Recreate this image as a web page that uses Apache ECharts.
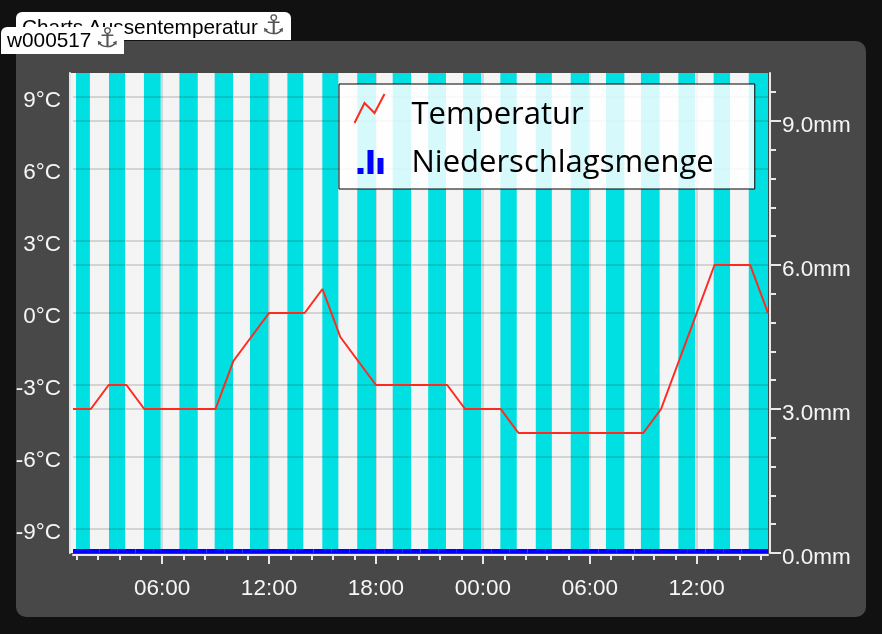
<!DOCTYPE html>
<html>
<head>
<meta charset="utf-8">
<title>Charts Aussentemperatur</title>
<script src="https://cdn.jsdelivr.net/npm/echarts@6/dist/echarts.min.js"></script>
<style>
  html, body { margin: 0; padding: 0; width: 882px; height: 634px; background: #111; overflow: hidden; }
  .panel { position: absolute; left: 16px; top: 41px; width: 850px; height: 576px; background: #484848; border-radius: 10px; }
  .plotbg { position: absolute; left: 71px; top: 73px; width: 697px; height: 480px; background: #f4f4f4; }
  #chart { position: absolute; left: 0; top: 0; width: 882px; height: 634px; }
  .tab { position: absolute; background: #fff; color: #000; font: 20.8px "Liberation Sans", Arial, sans-serif; white-space: nowrap; box-sizing: border-box; overflow: hidden; }
  .tab span { font-family: "DejaVu Sans"; color: #555; font-size: 27px; line-height: 20px; margin-left: -2px; }
  .tab1 { left: 16px; top: 12px; width: 275px; height: 28px; padding: 3px 0 0 6px; border-radius: 6px 6px 0 0; }
  .tab2 { left: 1px; top: 27px; width: 123px; height: 27px; padding: 1px 0 0 6px; border-radius: 6px 0 0 0; }
</style>
</head>
<body>
<div class="panel"></div>
<div class="plotbg"></div>
<div id="chart"></div>
<div class="tab tab1">Charts Aussentemperatur <span>⚓</span></div>
<div class="tab tab2">w000517 <span>⚓</span></div>
<script>
// hour counted from 00:00 of the first day
var hours = [1,2,3,4,5,6,7,8,9,10,11,12,13,14,15,16,17,18,19,20,21,22,23,24,25,26,27,28,29,30,31,32,33,34,35,36,37,38,39,40];
var temperatur = [-4,-4,-3,-3,-4,-4,-4,-4,-4,-2,-1,0,0,0,1,-1,-2,-3,-3,-3,-3,-3,-4,-4,-4,-5,-5,-5,-5,-5,-5,-5,-5,-4,-2,0,2,2,2,0];
var niederschlag = [0,0,0,0,0,0,0,0,0,0,0,0,0,0,0,0,0,0,0,0,0,0,0,0,0,0,0,0,0,0,0,0,0,0,0,0,0,0,0,0];

// cyan stripes, from / to in hours
var stripeFrom = [1.17,3.02,4.98,6.97,8.95,10.93,13.03,14.99,16.95,18.94,20.93,22.89,24.98,26.97,28.93,30.91,32.87,34.97,36.95,38.92];
var stripeTo = [1.95,3.92,5.92,8.0,9.98,11.96,13.92,15.89,17.99,19.97,21.93,23.91,25.9,27.87,29.96,31.94,33.92,35.91,37.87,40];

var xTicks = [6,12,18,24,30,36];
var xLabels = ['06:00','12:00','18:00','00:00','06:00','12:00'];
var xMinorTicks = [1.2,2.4,3.6,4.8,7.2,8.4,9.6,10.8,13.2,14.4,15.6,16.8,19.2,20.4,21.6,22.8,25.2,26.4,27.6,28.8,31.2,32.4,33.6,34.8,37.2,38.4,39.6];
var tempTicks = [-9,-6,-3,0,3,6,9];
var rainTicks = [0,3,6,9];
var rainMinorTicks = [0.6,1.2,1.8,2.4,3.6,4.2,4.8,5.4,6.6,7.2,7.8,8.4,9.6];

var axisColor = '#e8e8e8';
var labelFont = { color: '#f6f6f6', fontSize: 22.5, fontFamily: 'Liberation Sans' };
var gridLine = { show: true, lineStyle: { color: 'rgba(0,0,0,0.13)', width: 2 } };

var myChart = echarts.init(document.getElementById('chart'), null, { renderer: 'canvas' });
var charOption = {
  animation: false,
  backgroundColor: 'transparent',
  grid: { left: 73, top: 73, width: 695, height: 480 },
  legend: {
    left: 339,
    top: 84,
    orient: 'vertical',
    selectedMode: false,
    z: 6,
    padding: [5, 41, 10, 13],
    itemWidth: 30,
    itemHeight: 32,
    itemGap: 6,
    backgroundColor: 'rgba(255,255,255,0.84)',
    borderColor: '#000',
    borderWidth: 1,
    formatter: '{t|{name}}',
    textStyle: {
      rich: { t: { color: '#000', fontSize: 31, fontFamily: 'Open Sans', lineHeight: 26, padding: [11, 0, 0, 22] } }
    },
    data: [
      { name: 'Temperatur', icon: 'path://M0 32L0 32ZM0 29L10 9L20 19L30 0', itemStyle: { color: 'none', borderColor: '#ff2a1f', borderWidth: 2 } },
      { name: 'Niederschlagsmenge', icon: 'path://M0 0L0 0ZM30 0L30 0ZM3 26H9V32H3ZM13 8H19V32H13ZM23 16H29V32H23Z', itemStyle: { color: '#0000ff', borderWidth: 0 } }
    ]
  },
  xAxis: [
    {
      type: 'value', min: 1, max: 40, z: 2,
      position: 'bottom', offset: 2,
      axisLine: { show: true, onZero: false, lineStyle: { color: axisColor, width: 2 } },
      axisTick: { show: true, length: 9, customValues: xTicks, lineStyle: { color: axisColor, width: 2 } },
      axisLabel: {
        customValues: xTicks, margin: 22, showMinLabel: true, showMaxLabel: true,
        color: labelFont.color, fontSize: labelFont.fontSize, fontFamily: labelFont.fontFamily,
        formatter: function (v) { return xLabels[xTicks.indexOf(v)]; }
      },
      splitLine: { show: true, lineStyle: { color: 'rgba(0,0,0,0.12)', width: 2 } }
    },
    {
      type: 'value', min: 1, max: 40, z: 2,
      position: 'bottom', offset: 2,
      axisLine: { show: false, onZero: false },
      axisTick: { show: true, length: 5, customValues: xMinorTicks, lineStyle: { color: axisColor, width: 2 } },
      axisLabel: { show: false },
      splitLine: { show: false }
    }
  ],
  yAxis: [
    {
      type: 'value', min: -10, max: 10, z: 2,
      position: 'left', offset: 3,
      axisLine: { show: true, onZero: false, lineStyle: { color: axisColor, width: 2 } },
      axisTick: { show: false, customValues: tempTicks },
      axisLabel: {
        customValues: tempTicks, margin: 9, verticalAlign: 'top', lineHeight: 8,
        color: labelFont.color, fontSize: labelFont.fontSize, fontFamily: labelFont.fontFamily,
        formatter: function (v) { return v + '°C'; }
      },
      splitLine: gridLine
    },
    {
      type: 'value', min: 0, max: 10, z: 2,
      position: 'right', offset: 2,
      axisLine: { show: true, onZero: false, lineStyle: { color: axisColor, width: 2 } },
      axisTick: { show: true, length: 11, customValues: rainTicks, lineStyle: { color: axisColor, width: 2 } },
      axisLabel: {
        customValues: rainTicks, margin: 12, verticalAlign: 'top', lineHeight: 10,
        color: labelFont.color, fontSize: labelFont.fontSize, fontFamily: labelFont.fontFamily,
        formatter: function (v) { return v.toFixed(1) + 'mm'; }
      },
      splitLine: gridLine
    },
    {
      type: 'value', min: 0, max: 10, z: 2,
      position: 'right', offset: 2,
      axisLine: { show: false, onZero: false },
      axisTick: { show: true, length: 6, customValues: rainMinorTicks, lineStyle: { color: axisColor, width: 2 } },
      axisLabel: { show: false },
      splitLine: { show: false }
    }
  ],
  series: [
    {
      name: 'Streifen',
      type: 'custom',
      z: 1,
      xAxisIndex: 0,
      yAxisIndex: 0,
      silent: true,
      data: stripeFrom.map(function (f, i) { return [f, stripeTo[i]]; }),
      renderItem: function (params, api) {
        var a = api.coord([api.value(0), 10]);
        var b = api.coord([api.value(1), -10]);
        return { type: 'rect', shape: { x: a[0], y: a[1], width: b[0] - a[0], height: b[1] - a[1] }, style: { fill: '#00e0e2' } };
      }
    },
    {
      // custom bars: a bar series on a value axis is not clipped to the grid
      name: 'Niederschlagsmenge',
      type: 'custom',
      z: 3,
      xAxisIndex: 0,
      yAxisIndex: 1,
      silent: true,
      itemStyle: { color: '#0000ff' },
      data: hours.map(function (h, i) { return [h, niederschlag[i]]; }),
      renderItem: function (params, api) {
        var h = api.value(0);
        var a = api.coord([Math.max(h - 0.5, 1), api.value(1)]);
        var b = api.coord([Math.min(h + 0.5, 40), 0]);
        var height = Math.max(b[1] - a[1], 4); // zero values still show as a thin bar
        return { type: 'rect', shape: { x: a[0], y: b[1] - height, width: b[0] - a[0], height: height }, style: { fill: '#0000ff' } };
      }
    },
    {
      name: 'Temperatur',
      type: 'line',
      z: 4,
      xAxisIndex: 0,
      yAxisIndex: 0,
      symbol: 'none',
      lineStyle: { color: '#ff2a1f', width: 2 },
      itemStyle: { color: '#ff2a1f' },
      data: hours.map(function (h, i) { return [h, temperatur[i]]; })
    }
  ]
};
myChart.setOption(charOption);
</script>
</body>
</html>
